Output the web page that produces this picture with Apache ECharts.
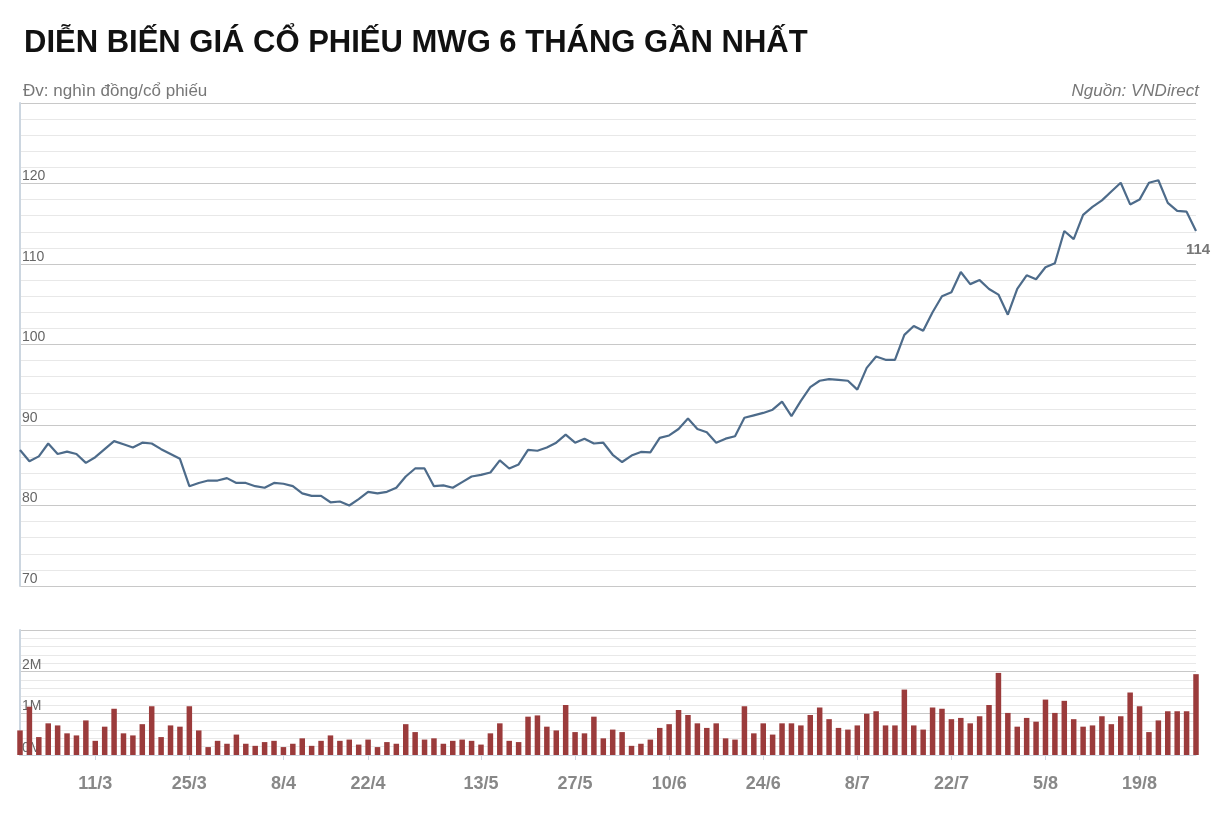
<!DOCTYPE html>
<html><head><meta charset="utf-8">
<script src="https://cdn.jsdelivr.net/npm/echarts@6/dist/echarts.min.js"></script>
<style>body{margin:0;background:#fff}#c{width:1226px;height:830px}</style>
</head><body><div id="c"></div>
<script>
const dates = ['27/2','28/2',
'1/3','4/3','5/3','6/3','7/3','8/3','11/3','12/3','13/3','14/3','15/3','18/3','19/3','20/3','21/3','22/3','25/3','26/3','27/3','28/3','29/3',
'1/4','2/4','3/4','4/4','5/4','8/4','9/4','10/4','11/4','12/4','16/4','17/4','18/4','19/4','22/4','23/4','24/4','25/4','26/4',
'2/5','3/5','6/5','7/5','8/5','9/5','10/5','13/5','14/5','15/5','16/5','17/5','20/5','21/5','22/5','23/5','24/5','27/5','28/5','29/5','30/5','31/5',
'3/6','4/6','5/6','6/6','7/6','10/6','11/6','12/6','13/6','14/6','17/6','18/6','19/6','20/6','21/6','24/6','25/6','26/6','27/6','28/6',
'1/7','2/7','3/7','4/7','5/7','8/7','9/7','10/7','11/7','12/7','15/7','16/7','17/7','18/7','19/7','22/7','23/7','24/7','25/7','26/7','29/7','30/7','31/7',
'1/8','2/8','5/8','6/8','7/8','8/8','9/8','12/8','13/8','14/8','15/8','16/8','19/8','20/8','21/8','22/8','23/8','26/8','27/8'];
const price = [86.9,85.5,86.1,87.7,86.4,86.7,86.4,85.3,86.0,87.0,88.0,87.6,87.2,87.8,87.7,87.0,86.4,85.8,82.4,82.8,
83.1,83.1,83.4,82.8,82.8,82.4,82.2,82.8,82.7,82.4,81.5,81.2,81.2,80.4,80.5,80.0,80.8,81.7,81.5,81.7,
82.2,83.6,84.6,84.6,82.4,82.5,82.2,82.9,83.6,83.8,84.1,85.6,84.6,85.1,86.9,86.8,87.2,87.8,88.8,87.8,
88.3,87.7,87.8,86.3,85.4,86.2,86.65,86.6,88.4,88.7,89.5,90.8,89.5,89.1,87.8,88.3,88.6,90.9,91.2,91.5,
91.9,92.9,91.1,93.0,94.7,95.5,95.7,95.6,95.5,94.4,97.1,98.5,98.1,98.1,101.2,102.3,101.7,104.0,106.0,106.5,
109.0,107.5,108.0,106.9,106.2,103.7,106.9,108.6,108.1,109.6,110.1,114.1,113.1,116.1,117.1,117.9,119.0,120.1,117.4,118.0,
120.1,120.4,117.6,116.6,116.5,114.1];
const volume = [0.59,1.16,0.43,0.76,0.71,0.52,0.47,0.83,0.34,0.68,1.11,0.52,0.47,0.74,1.17,0.43,0.71,0.68,1.17,0.59,
0.19,0.34,0.27,0.49,0.27,0.22,0.31,0.34,0.19,0.27,0.40,0.22,0.34,0.47,0.34,0.37,0.25,0.37,0.19,0.31,
0.27,0.74,0.55,0.37,0.40,0.27,0.34,0.37,0.34,0.25,0.52,0.76,0.34,0.31,0.92,0.95,0.68,0.59,1.20,0.55,
0.52,0.92,0.40,
0.61,0.55,0.22,0.27,0.37,0.65,0.74,1.08,0.96,0.76,0.65,0.76,0.40,0.37,1.17,0.52,0.76,0.49,0.76,0.76,
0.71,0.96,1.14,0.86,0.65,0.61,0.71,0.99,1.05,0.71,0.71,1.57,0.71,0.61,1.14,1.11,0.86,0.89,0.76,0.93,
1.20,1.97,1.01,0.68,0.89,0.80,1.33,1.01,1.30,0.86,0.68,0.71,0.93,0.74,0.93,1.50,1.17,0.55,0.83,1.05,
1.05,1.05,1.94];
const tickDates = ['11/3','25/3','8/4','22/4','13/5','27/5','10/6','24/6','8/7','22/7','5/8','19/8'];
const priceTicks = [70,80,90,100,110,120];
const volTicks = [0,1,2];

const gridLines = ['#c8c8c8','#e8e8e8','#e8e8e8','#e8e8e8','#e8e8e8'];
const showTick = (i, v) => tickDates.includes(v);
const chart = echarts.init(document.getElementById('c'));
chart.setOption({
  animation:false,
  title:[
    {text:'DIỄN BIẾN GIÁ CỔ PHIẾU MWG 6 THÁNG GẦN NHẤT',left:19,top:23,textStyle:{fontFamily:'Liberation Sans, Arial',fontSize:31,fontWeight:'bold',color:'#111'}},
    {text:'Đv: nghìn đồng/cổ phiếu',left:18,top:78,textStyle:{fontFamily:'Liberation Sans, Arial',fontSize:17,fontWeight:'normal',color:'#777'}},
    {text:'Nguồn: VNDirect',right:22,top:78,textStyle:{fontFamily:'Liberation Sans, Arial',fontSize:17,fontWeight:'normal',fontStyle:'italic',color:'#777'}}
  ],
  grid:[{left:20,right:30,top:103,height:483},{left:20,right:30,top:630,height:125}],
  xAxis:[
    {type:'category',gridIndex:0,data:dates,boundaryGap:false,axisLine:{show:false},axisTick:{show:false},axisLabel:{show:false}},
    {type:'category',gridIndex:1,data:dates,boundaryGap:false,
      axisLine:{lineStyle:{color:'#ccd6e0'}},
      axisTick:{interval:showTick,length:5,lineStyle:{color:'#ccd6e0'}},
      axisLabel:{interval:showTick,color:'#888',fontSize:18,fontWeight:'bold',margin:20,fontFamily:'Liberation Sans, Arial'}}
  ],
  yAxis:[
    {type:'value',gridIndex:0,min:70,max:130,interval:2,
      axisLine:{show:true,lineStyle:{color:'#ccd6e0',width:2}},axisTick:{show:false},
      splitLine:{lineStyle:{color:gridLines}},
      axisLabel:{inside:true,margin:2,verticalAlign:'bottom',color:'#666',fontSize:14,
        formatter:v=>priceTicks.includes(v)?String(v):''}},
    {type:'value',gridIndex:1,min:0,max:3,interval:0.2,
      axisLine:{show:true,lineStyle:{color:'#ccd6e0',width:2}},axisTick:{show:false},
      splitLine:{lineStyle:{color:gridLines}},
      axisLabel:{inside:true,margin:2,verticalAlign:'bottom',color:'#666',fontSize:14,
        formatter:v=>{const r=Math.round(v*10)/10;return volTicks.includes(r)?r+'M':'';}}}
  ],
  series:[
    {type:'line',xAxisIndex:0,yAxisIndex:0,data:price,symbol:'none',lineStyle:{color:'#4d6b8a',width:2.2},
      markPoint:{symbol:'circle',symbolSize:0,data:[{coord:[dates.length-1,price[price.length-1]],value:'114'}],
        label:{show:true,position:'bottom',offset:[2,6],color:'#777',fontWeight:'bold',fontSize:15,formatter:'114'}}},
    {type:'bar',xAxisIndex:1,yAxisIndex:1,data:volume,barWidth:5.5,itemStyle:{color:'#9b3b3b'}}
  ]
});
</script></body></html>
